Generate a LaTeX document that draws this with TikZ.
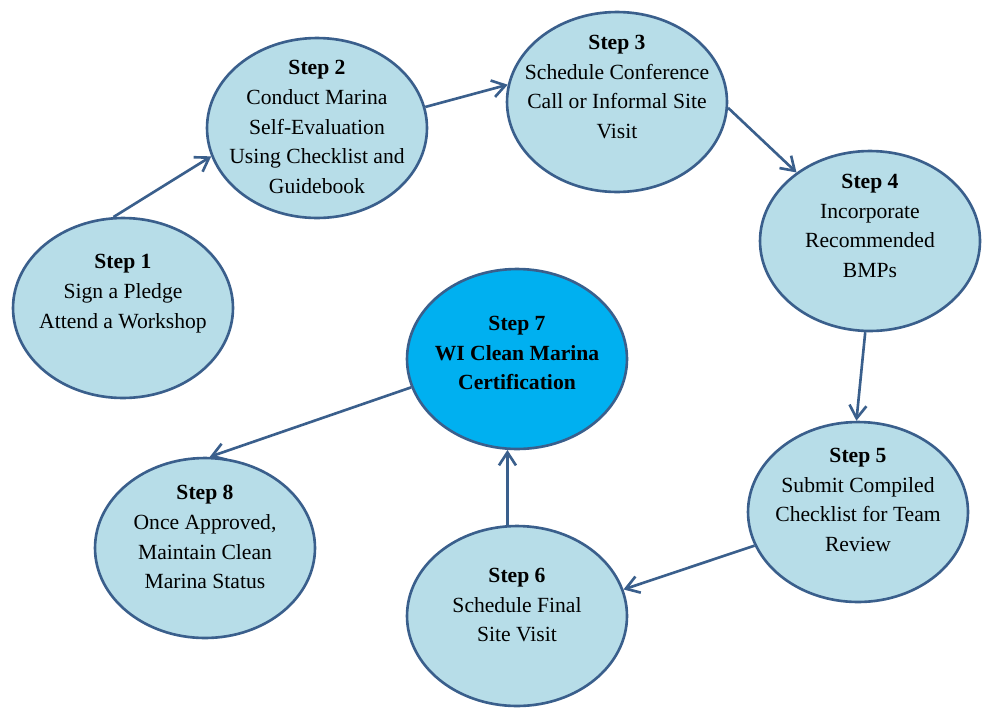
\documentclass[tikz,border=0pt]{standalone}
\usepackage{fontspec}
\setmainfont{Liberation Serif}
\usepackage{xcolor}
\usetikzlibrary{shapes.geometric, arrows.meta, positioning}

\definecolor{stepfill}{HTML}{B7DDE8}
\definecolor{stepline}{HTML}{3A5F8C}
\definecolor{certfill}{HTML}{00B0F0}

\tikzset{
  stepshape/.style={ellipse, draw=stepline, line width=1.5pt, fill=stepfill, minimum width=4.4cm, minimum height=3.6cm, inner sep=0pt},
  steptext/.style={align=center, font=\fontsize{12.3}{17}\selectfont, inner sep=0pt},
  flow/.style={draw=stepline, line width=1.5pt, -{Straight Barb[length=2.6mm, width=3.4mm]}}
}

\begin{document}
\begin{tikzpicture}[x=0.02cm, y=-0.02cm]
                        \useasboundingbox (0,0) rectangle (983,707);

                        \node[stepshape] (s1) at (123, 308) {};
                        \node[stepshape] (s2) at (317, 128) {};
                        \node[stepshape] (s3) at (617, 102) {};
                        \node[stepshape] (s4) at (870, 241) {};
                        \node[stepshape] (s5) at (858, 512) {};
                        \node[stepshape] (s6) at (517, 616) {};
                        \node[stepshape, fill=certfill] (s7) at (517, 359) {};
                        \node[stepshape] (s8) at (205, 548) {};

                        \node[steptext] (t1) at (123, 294) {\textbf{Step 1}\\Sign a Pledge\\Attend a Workshop};
                        \node[steptext] (t2) at (317, 127) {\textbf{Step 2}\\Conduct Marina\\Self-Evaluation\\Using Checklist and\\Guidebook};
                        \node[steptext] (t3) at (617, 87) {\textbf{Step 3}\\Schedule Conference\\Call or Informal Site\\Visit};
                        \node[steptext] (t4) at (870, 226) {\textbf{Step 4}\\Incorporate\\Recommended\\BMPs};
                        \node[steptext] (t5) at (858, 500) {\textbf{Step 5}\\Submit Compiled\\Checklist for Team\\Review};
                        \node[steptext] (t6) at (517, 605) {\textbf{Step 6}\\Schedule Final\\Site Visit};
                        \node[steptext, font=\fontsize{12.3}{17}\selectfont\bfseries] (t7) at (517, 353) {Step 7\\WI Clean Marina\\Certification};
                        \node[steptext] (t8) at (205, 537) {\textbf{Step 8}\\Once Approved,\\Maintain Clean\\Marina Status};

                        \draw
                        (s1.96) edge[flow] (s2.195)
                        (s2.11) edge[flow] (s3.171)
                        (s3.-3) edge[flow] (s4.137)
                        (s4.267) edge[flow] (s5.91)
                        (s5.198) edge[flow] (s6.14)
                        (s6.96) edge[flow] (s7.264)
                        (s7.195) edge[flow] (s8.87);
                    \end{tikzpicture}
\end{document}
